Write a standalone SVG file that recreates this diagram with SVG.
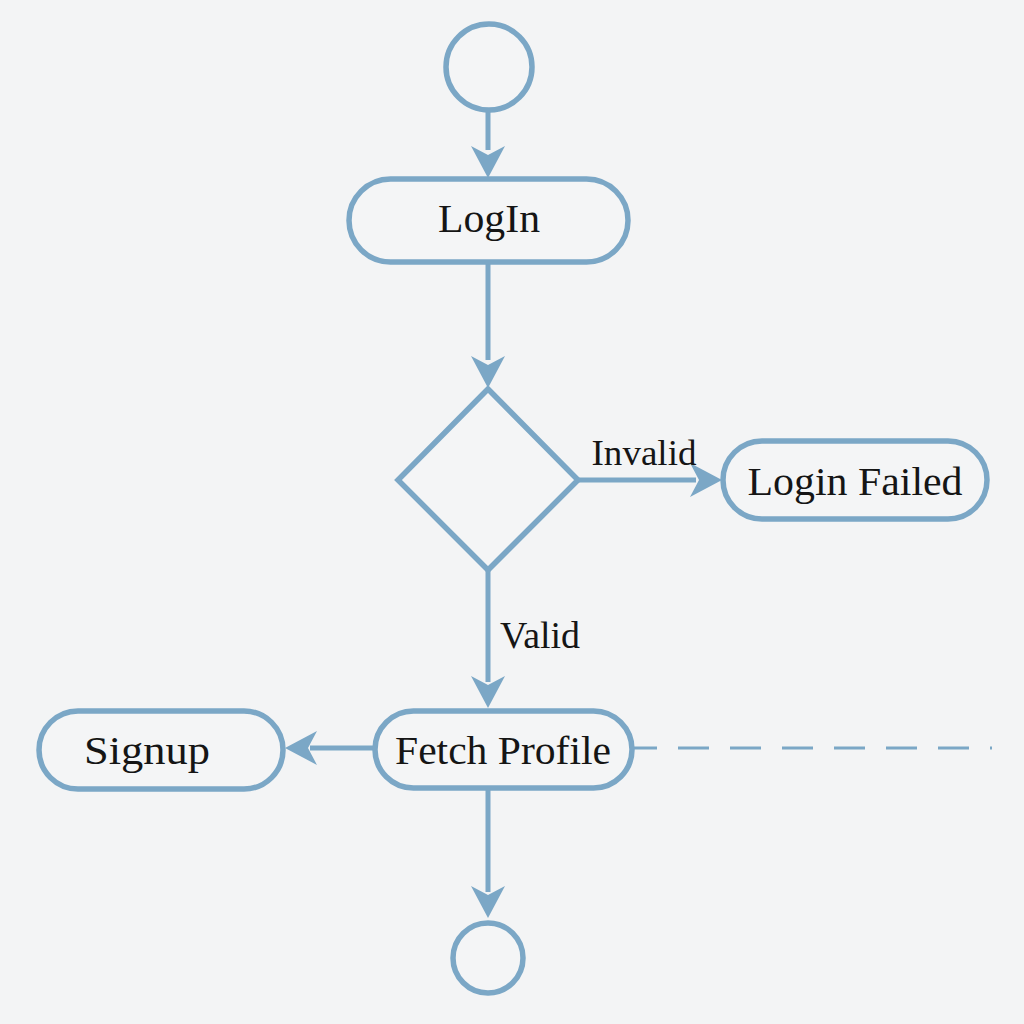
<svg xmlns="http://www.w3.org/2000/svg" width="1024" height="1024" viewBox="0 0 1024 1024">
<defs>
<style>
.n{fill:#f4f5f6;stroke:#7ba7c6;stroke-width:5.5}
.c{fill:none;stroke:#7ba7c6;stroke-width:5}
.t{font-family:"Liberation Serif","DejaVu Serif",serif;fill:#151515;text-anchor:middle}
</style>
</defs>
<rect width="1024" height="1024" fill="#f3f4f5"/>
<g id="connectors">
<line class="c" x1="488" y1="110" x2="488" y2="150"/>
<path d="M471,146 L488,178 L505,146 L488,155 Z" fill="#7ba7c6"/>
<line class="c" x1="488" y1="262" x2="488" y2="360"/>
<path d="M471,356 L488,388 L505,356 L488,365 Z" fill="#7ba7c6"/>
<line class="c" x1="578" y1="480" x2="696" y2="480"/>
<path d="M690,463 L722,480 L690,497 L699,480 Z" fill="#7ba7c6"/>
<line class="c" x1="488" y1="570" x2="488" y2="682"/>
<path d="M471,676 L488,708 L505,676 L488,685 Z" fill="#7ba7c6"/>
<line class="c" x1="374" y1="748" x2="310" y2="748"/>
<path d="M317,731 L285,748 L317,765 L308,748 Z" fill="#7ba7c6"/>
<line x1="626" y1="748" x2="992" y2="748" stroke="#7ba7c6" stroke-width="3" stroke-dasharray="31,21"/>
<line class="c" x1="488" y1="790" x2="488" y2="892"/>
<path d="M471,886 L488,918 L505,886 L488,895 Z" fill="#7ba7c6"/>
</g>
<g id="start"><circle class="n" cx="489" cy="67" r="43"/></g>
<g id="login"><rect class="n" x="349" y="179" width="279" height="83" rx="41.5"/><text class="t" x="489" y="232" font-size="41" textLength="102" lengthAdjust="spacingAndGlyphs">LogIn</text></g>
<g id="decision"><polygon class="n" points="488,389 578,480 488,570 398,480"/></g>
<text class="t" x="644" y="465" font-size="36" textLength="105" lengthAdjust="spacingAndGlyphs">Invalid</text>
<text class="t" x="540" y="648" font-size="37" textLength="80" lengthAdjust="spacingAndGlyphs">Valid</text>
<g id="loginFailed"><rect class="n" x="723" y="441" width="264" height="78" rx="39"/><text class="t" x="855" y="495" font-size="40" textLength="215" lengthAdjust="spacingAndGlyphs">Login Failed</text></g>
<g id="fetchProfile"><rect class="n" x="375" y="711" width="257" height="77" rx="38.5"/><text class="t" x="503" y="764" font-size="40" textLength="216" lengthAdjust="spacingAndGlyphs">Fetch Profile</text></g>
<g id="signup"><rect class="n" x="39" y="711" width="244" height="78" rx="39"/><text class="t" x="147" y="764" font-size="41" textLength="126" lengthAdjust="spacingAndGlyphs">Signup</text></g>
<g id="end"><circle class="n" cx="488" cy="958" r="35"/></g>
</svg>
